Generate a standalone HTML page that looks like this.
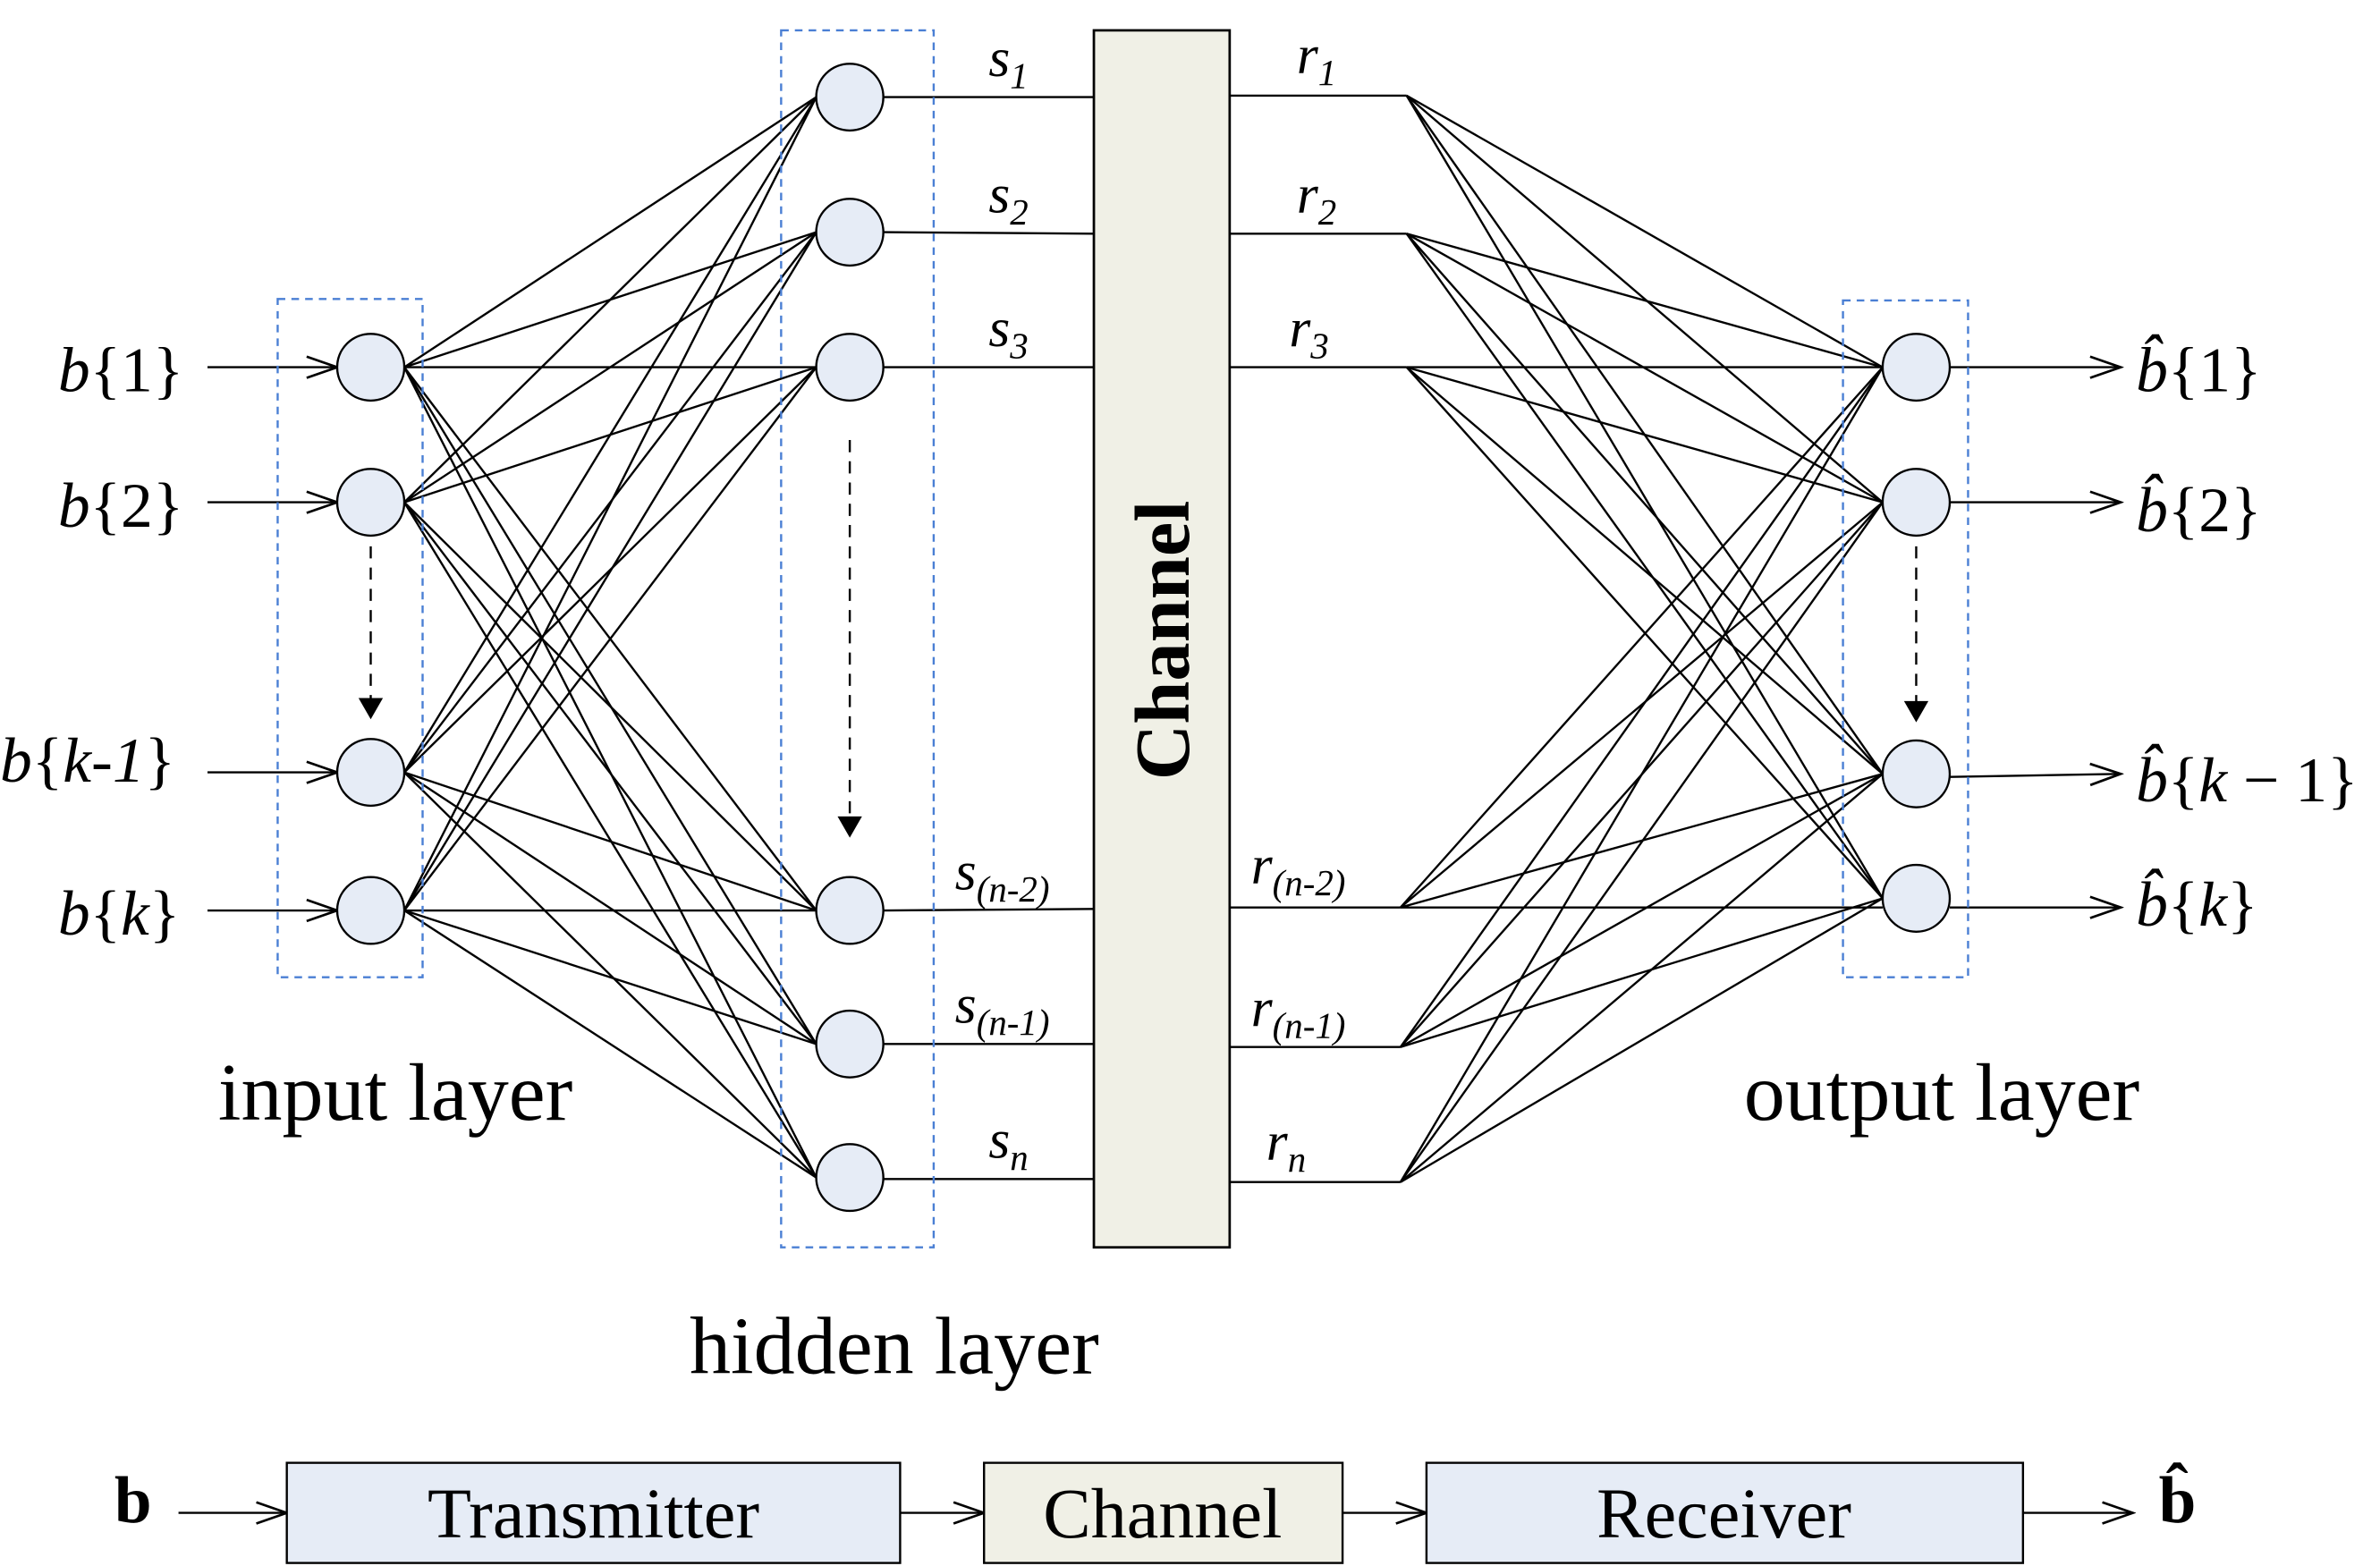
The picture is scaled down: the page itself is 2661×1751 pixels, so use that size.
<!DOCTYPE html>
<html><head><meta charset="utf-8"><style>
html,body{margin:0;padding:0;background:#fff;}
svg{display:block;}
text{font-family:"Liberation Serif",serif;fill:#000;}
</style></head><body>
<svg width="2661" height="1751" viewBox="0 0 1560 1032" preserveAspectRatio="none" xmlns="http://www.w3.org/2000/svg">
<defs>
<marker id="oa" markerWidth="24" markerHeight="16" refX="22" refY="8" orient="auto" markerUnits="userSpaceOnUse">
<polyline points="2,1 22,8 2,15" fill="none" stroke="#000" stroke-width="1.6"/>
</marker>
<marker id="fa" markerWidth="20" markerHeight="20" refX="10" refY="16" orient="0" markerUnits="userSpaceOnUse">
<polygon points="2,4 18,4 10,18" fill="#000"/>
</marker>
</defs>
<g stroke="#000" stroke-width="1.4" fill="none">
<line x1="265" y1="242" x2="535" y2="64"/><line x1="265" y1="242" x2="535" y2="153"/><line x1="265" y1="242" x2="535" y2="242"/><line x1="265" y1="242" x2="535" y2="600"/><line x1="265" y1="242" x2="535" y2="688"/><line x1="265" y1="242" x2="535" y2="776"/>
<line x1="265" y1="331" x2="535" y2="64"/><line x1="265" y1="331" x2="535" y2="153"/><line x1="265" y1="331" x2="535" y2="242"/><line x1="265" y1="331" x2="535" y2="600"/><line x1="265" y1="331" x2="535" y2="688"/><line x1="265" y1="331" x2="535" y2="776"/>
<line x1="265" y1="509" x2="535" y2="64"/><line x1="265" y1="509" x2="535" y2="153"/><line x1="265" y1="509" x2="535" y2="242"/><line x1="265" y1="509" x2="535" y2="600"/><line x1="265" y1="509" x2="535" y2="688"/><line x1="265" y1="509" x2="535" y2="776"/>
<line x1="265" y1="600" x2="535" y2="64"/><line x1="265" y1="600" x2="535" y2="153"/><line x1="265" y1="600" x2="535" y2="242"/><line x1="265" y1="600" x2="535" y2="600"/><line x1="265" y1="600" x2="535" y2="688"/><line x1="265" y1="600" x2="535" y2="776"/>
<line x1="579" y1="64" x2="717" y2="64"/><line x1="579" y1="153" x2="717" y2="154"/><line x1="579" y1="242" x2="717" y2="242"/>
<line x1="579" y1="600" x2="717" y2="599"/><line x1="579" y1="688" x2="717" y2="688"/><line x1="579" y1="777" x2="717" y2="777"/>
<line x1="806" y1="63" x2="922" y2="63"/><line x1="806" y1="154" x2="922" y2="154"/><line x1="806" y1="242" x2="922" y2="242"/>
<line x1="806" y1="598" x2="918" y2="598"/><line x1="806" y1="690" x2="918" y2="690"/><line x1="806" y1="779" x2="918" y2="779"/>
<line x1="922" y1="63" x2="1234" y2="242"/><line x1="922" y1="63" x2="1234" y2="331"/><line x1="922" y1="63" x2="1234" y2="510"/><line x1="922" y1="63" x2="1234" y2="592"/>
<line x1="922" y1="154" x2="1234" y2="242"/><line x1="922" y1="154" x2="1234" y2="331"/><line x1="922" y1="154" x2="1234" y2="510"/><line x1="922" y1="154" x2="1234" y2="592"/>
<line x1="922" y1="242" x2="1234" y2="242"/><line x1="922" y1="242" x2="1234" y2="331"/><line x1="922" y1="242" x2="1234" y2="510"/><line x1="922" y1="242" x2="1234" y2="592"/>
<line x1="918" y1="598" x2="1234" y2="242"/><line x1="918" y1="598" x2="1234" y2="331"/><line x1="918" y1="598" x2="1234" y2="510"/><line x1="918" y1="598" x2="1234" y2="598"/>
<line x1="918" y1="690" x2="1234" y2="242"/><line x1="918" y1="690" x2="1234" y2="331"/><line x1="918" y1="690" x2="1234" y2="510"/><line x1="918" y1="690" x2="1234" y2="592"/>
<line x1="918" y1="779" x2="1234" y2="242"/><line x1="918" y1="779" x2="1234" y2="331"/><line x1="918" y1="779" x2="1234" y2="510"/><line x1="918" y1="779" x2="1234" y2="592"/>
<line x1="136" y1="242" x2="221" y2="242" marker-end="url(#oa)"/>
<line x1="136" y1="331" x2="221" y2="331" marker-end="url(#oa)"/>
<line x1="136" y1="509" x2="221" y2="509" marker-end="url(#oa)"/>
<line x1="136" y1="600" x2="221" y2="600" marker-end="url(#oa)"/>
<line x1="1278" y1="242" x2="1390" y2="242" marker-end="url(#oa)"/>
<line x1="1278" y1="331" x2="1390" y2="331" marker-end="url(#oa)"/>
<line x1="1278" y1="512" x2="1390" y2="510" marker-end="url(#oa)"/>
<line x1="1278" y1="598" x2="1390" y2="598" marker-end="url(#oa)"/>
<line x1="243" y1="360" x2="243" y2="472" stroke-dasharray="8,6" marker-end="url(#fa)"/>
<line x1="557" y1="290" x2="557" y2="550" stroke-dasharray="8,6" marker-end="url(#fa)"/>
<line x1="1256" y1="360" x2="1256" y2="474" stroke-dasharray="8,6" marker-end="url(#fa)"/>
<line x1="117" y1="997" x2="188" y2="997" marker-end="url(#oa)"/>
<line x1="590" y1="997" x2="645" y2="997" marker-end="url(#oa)"/>
<line x1="880" y1="997" x2="935" y2="997" marker-end="url(#oa)"/>
<line x1="1326" y1="997" x2="1398" y2="997" marker-end="url(#oa)"/>
</g>
<g fill="none" stroke="#4a7fd4" stroke-width="1.4" stroke-dasharray="5,4">
<rect x="182" y="197" width="95" height="447"/>
<rect x="512" y="20" width="100" height="802"/>
<rect x="1208" y="198" width="82" height="446"/>
</g>
<g fill="#e6ecf6" stroke="#000" stroke-width="1.4">
<circle cx="243" cy="242" r="22"/><circle cx="243" cy="331" r="22"/><circle cx="243" cy="509" r="22"/><circle cx="243" cy="600" r="22"/>
<circle cx="557" cy="64" r="22"/><circle cx="557" cy="153" r="22"/><circle cx="557" cy="242" r="22"/><circle cx="557" cy="600" r="22"/><circle cx="557" cy="688" r="22"/><circle cx="557" cy="776" r="22"/>
<circle cx="1256" cy="242" r="22"/><circle cx="1256" cy="331" r="22"/><circle cx="1256" cy="510" r="22"/><circle cx="1256" cy="592" r="22"/>
</g>
<rect x="717" y="20" width="89" height="802" fill="#f0f0e6" stroke="#000" stroke-width="1.6"/>
<text x="0" y="0" transform="translate(779,422) rotate(-90)" text-anchor="middle" font-size="51" font-weight="bold">Channel</text>
<rect x="188" y="964" width="402" height="66" fill="#e6ecf6" stroke="#000" stroke-width="1.4"/>
<rect x="645" y="964" width="235" height="66" fill="#f0f0e6" stroke="#000" stroke-width="1.4"/>
<rect x="935" y="964" width="391" height="66" fill="#e6ecf6" stroke="#000" stroke-width="1.4"/>
<g font-size="47" text-anchor="middle">
<text x="389" y="1013">Transmitter</text>
<text x="762" y="1013">Channel</text>
<text x="1130" y="1013">Receiver</text>
</g>
<text x="75" y="1003" font-size="44" font-weight="bold">b</text>
<text x="1415" y="1003" font-size="44" font-weight="bold">b̂</text>
<g font-size="54">
<text x="143" y="738">input layer</text>
<text x="452" y="905">hidden layer</text>
<text x="1143" y="738">output layer</text>
</g>
<g font-size="42">
<text x="38" y="258"><tspan font-style="italic">b</tspan>{1}</text>
<text x="38" y="347"><tspan font-style="italic">b</tspan>{2}</text>
<text x="0" y="515"><tspan font-style="italic">b</tspan>{<tspan font-style="italic">k-1</tspan>}</text>
<text x="38" y="616"><tspan font-style="italic">b</tspan>{<tspan font-style="italic">k</tspan>}</text>
</g>
<g font-size="42">
<text x="1400" y="258"><tspan font-style="italic">b̂</tspan>{1}</text>
<text x="1400" y="350"><tspan font-style="italic">b̂</tspan>{2}</text>
<text x="1400" y="528"><tspan font-style="italic">b̂</tspan>{<tspan font-style="italic">k</tspan> − 1}</text>
<text x="1400" y="610"><tspan font-style="italic">b̂</tspan>{<tspan font-style="italic">k</tspan>}</text>
</g>
<g font-size="36" font-style="italic">
<text x="648" y="50">s<tspan font-size="24" dy="8">1</tspan></text>
<text x="648" y="140">s<tspan font-size="24" dy="8">2</tspan></text>
<text x="648" y="228">s<tspan font-size="24" dy="8">3</tspan></text>
<text x="626" y="586">s<tspan font-size="24" dy="8">(n-2)</tspan></text>
<text x="626" y="674">s<tspan font-size="24" dy="8">(n-1)</tspan></text>
<text x="648" y="763">s<tspan font-size="24" dy="8">n</tspan></text>
<text x="850" y="48">r<tspan font-size="24" dy="8">1</tspan></text>
<text x="850" y="140">r<tspan font-size="24" dy="8">2</tspan></text>
<text x="845" y="228">r<tspan font-size="24" dy="8">3</tspan></text>
<text x="820" y="582">r<tspan font-size="24" dy="8">(n-2)</tspan></text>
<text x="820" y="676">r<tspan font-size="24" dy="8">(n-1)</tspan></text>
<text x="830" y="764">r<tspan font-size="24" dy="8">n</tspan></text>
</g>
</svg>
</body></html>
